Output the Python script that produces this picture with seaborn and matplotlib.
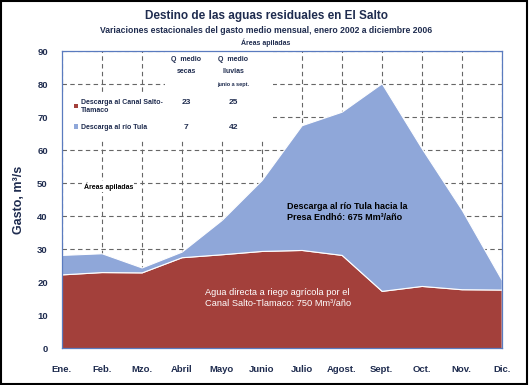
import matplotlib
matplotlib.use("Agg")
import matplotlib.pyplot as plt
import seaborn as sns
from matplotlib.patches import Patch, Rectangle

months = ["Ene.", "Feb.", "Mzo.", "Abril", "Mayo", "Junio", "Julio",
          "Agost.", "Sept.", "Oct.", "Nov.", "Dic."]
# gasto medio mensual (m3/s), areas apiladas
canal = [22.4, 23.1, 23.0, 27.6, 28.5, 29.5, 29.8, 28.3, 17.4, 18.9, 17.9, 17.8]
tula = [5.9, 5.7, 1.5, 1.7, 10.4, 21.5, 37.8, 43.4, 62.9, 41.7, 24.1, 2.9]

q_secas = ["23", "7"]
q_lluvias = ["25", "42"]
series_names = ["Descarga al Canal Salto-\nTlamaco", "Descarga al río Tula"]

RED = "#A3403B"
BLUE = "#8FA7D9"
NAVY = "#1F2C4F"

sns.set_theme(style="white")
plt.rcParams["font.family"] = ["Liberation Sans", "DejaVu Sans"]

fig = plt.figure(figsize=(5.29, 3.85), dpi=100)
ax = fig.add_axes([0.1166, 0.0953, 0.8318, 0.7715])

x = list(range(len(months)))
ax.stackplot(x, canal, tula, colors=[RED, BLUE], edgecolors="white",
             linewidth=0.8, zorder=2)

ax.set_xlim(0, 11)
ax.set_ylim(0, 90)
ax.set_yticks(range(0, 91, 10))
ax.set_xticks(x)
ax.set_xticklabels(months)
ax.grid(True, color="#666666", linestyle=(0, (4, 3)), linewidth=0.8)
ax.set_axisbelow(True)
ax.tick_params(axis="x", direction="in", length=3, color="#4F6FAF", pad=12,
               labelsize=6.8, labelcolor=NAVY)
ax.tick_params(axis="y", direction="in", length=3, color="#999999", pad=10,
               labelsize=6.8, labelcolor=NAVY)
for lab in ax.get_xticklabels() + ax.get_yticklabels():
    lab.set_fontweight("bold")
for sp in ax.spines.values():
    sp.set_color("#5A7BBF")
    sp.set_linewidth(0.9)

ax.set_ylabel("Gasto, m³/s", fontsize=9, fontweight="bold", color=NAVY,
              labelpad=9)

# blank areas behind the legend table
ax.add_patch(Rectangle((0.0, 0.70), 0.48, 0.153, transform=ax.transAxes,
                       facecolor="white", edgecolor="none", zorder=1))
ax.add_patch(Rectangle((0.235, 0.70), 0.245, 0.3, transform=ax.transAxes,
                       facecolor="white", edgecolor="none", zorder=1))

handles = [Patch(facecolor=RED, edgecolor="none"),
           Patch(facecolor=BLUE, edgecolor="none")]
leg = ax.legend(handles, series_names, loc="upper left",
                bbox_to_anchor=(0.022, 0.85), frameon=False, fontsize=5,
                handlelength=0.6, handleheight=0.6, handletextpad=0.4,
                labelspacing=1.5, borderaxespad=0)
for t in leg.get_texts():
    t.set_color(NAVY)
    t.set_fontweight("bold")

ax.text(0.283, 0.985, "Q  medio\nsecas", transform=ax.transAxes, ha="center",
        va="top", fontsize=5, fontweight="bold", color=NAVY, linespacing=2.0)
ax.text(0.39, 0.985, "Q  medio\nlluvias", transform=ax.transAxes, ha="center",
        va="top", fontsize=5, fontweight="bold", color=NAVY, linespacing=2.0)
ax.text(0.39, 0.895, "junio a sept.", transform=ax.transAxes, ha="center",
        va="top", fontsize=4, fontweight="bold", color=NAVY)
for i, (a, b) in enumerate(zip(q_secas, q_lluvias)):
    yy = 0.826 - i * 0.083
    ax.text(0.283, yy, a, transform=ax.transAxes, ha="center", va="center",
            fontsize=6, fontweight="bold", color=NAVY)
    ax.text(0.39, yy, b, transform=ax.transAxes, ha="center", va="center",
            fontsize=6, fontweight="bold", color=NAVY)

ax.text(0.05, 0.545, "Áreas apiladas", transform=ax.transAxes, ha="left",
        va="center", fontsize=5, fontweight="bold", color="black", zorder=3,
        bbox=dict(facecolor="white", edgecolor="none", pad=1))

ax.text(0.512, 0.458, "Descarga al río Tula hacia la\nPresa Endhó: 675 Mm³/año",
        transform=ax.transAxes, ha="left", va="center", fontsize=6.5,
        fontweight="bold", color="black", zorder=3, linespacing=1.35)
ax.text(0.325, 0.17, "Agua directa a riego agrícola por el\nCanal Salto-Tlamaco: 750 Mm³/año",
        transform=ax.transAxes, ha="left", va="center", fontsize=6.7,
        color="white", zorder=3, linespacing=1.35)

fig.text(0.503, 0.958, "Destino de las aguas residuales en El Salto",
         ha="center", va="center", fontsize=8.5, fontweight="bold", color=NAVY)
fig.text(0.503, 0.921,
         "Variaciones estacionales del gasto medio mensual, enero 2002 a diciembre 2006",
         ha="center", va="center", fontsize=6.2, fontweight="bold", color=NAVY)
fig.text(0.503, 0.89, "Áreas apiladas", ha="center", va="center",
         fontsize=5, fontweight="bold", color=NAVY)

fig.add_artist(Rectangle((0.002, 0.003), 0.995, 0.994, transform=fig.transFigure,
                         facecolor="none", edgecolor="black", linewidth=1.5))

fig.savefig("out.png", dpi=100)
